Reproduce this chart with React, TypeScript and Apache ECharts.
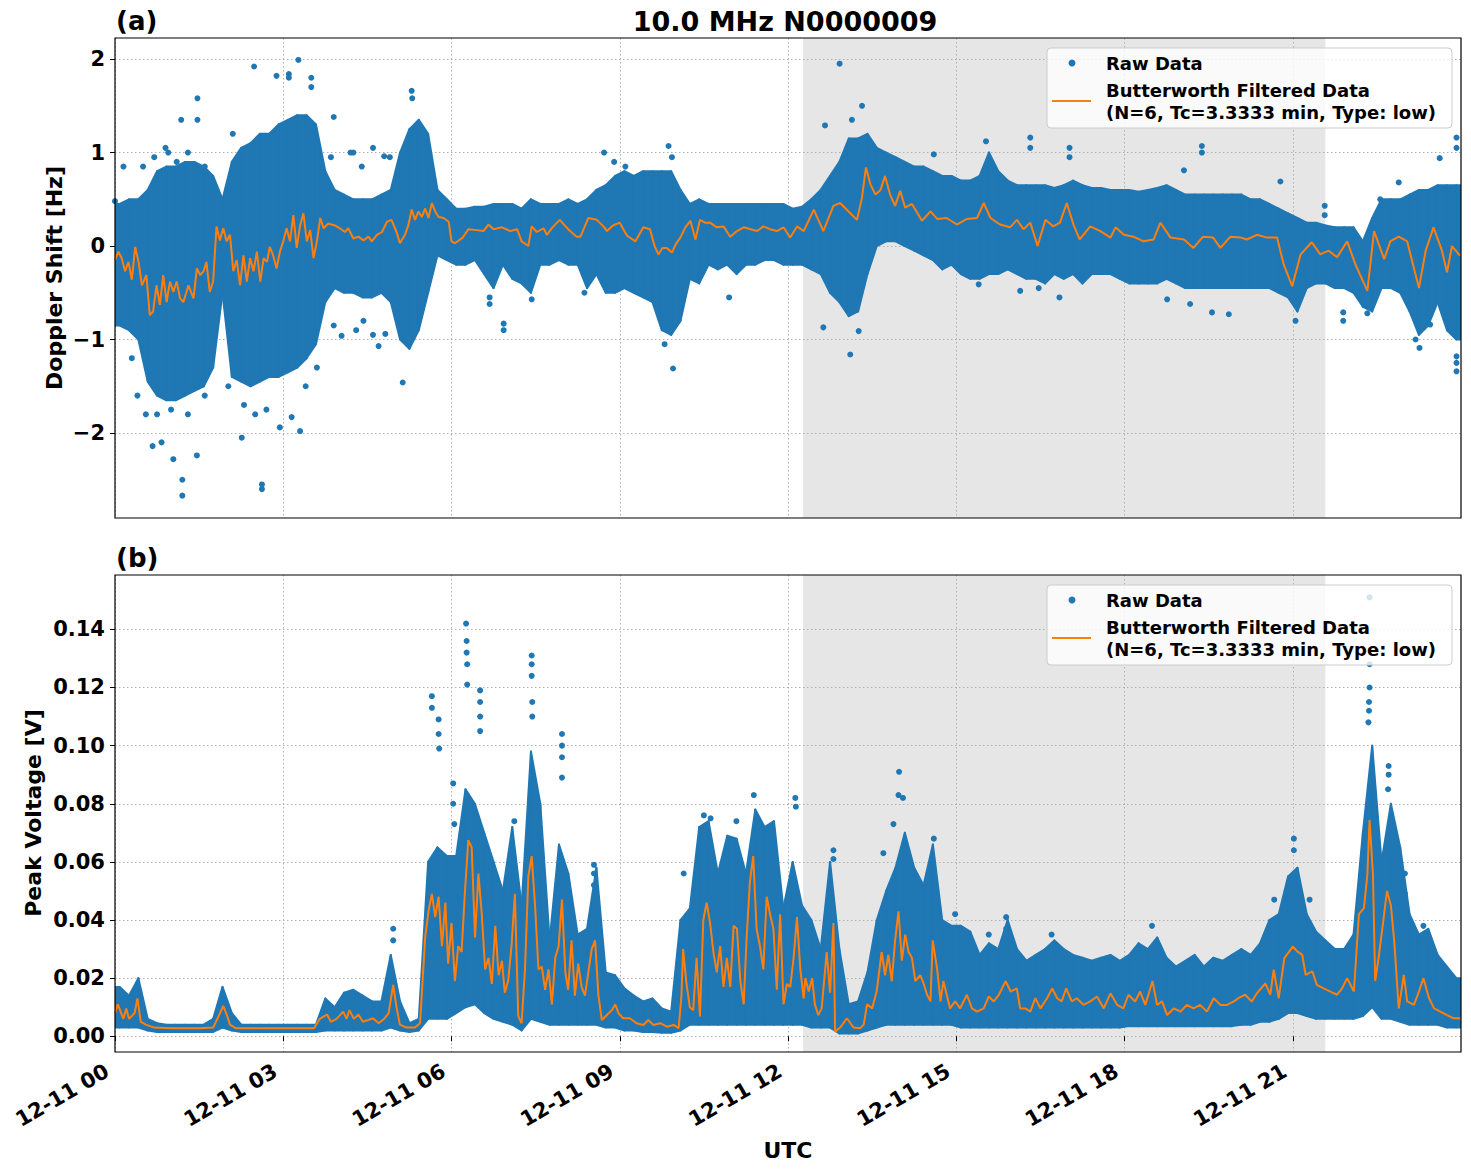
import { useEffect, useRef } from 'react';
import * as echarts from 'echarts';

// Time base: 10-minute bins over the day of 12-11 (hours from 00 UTC)
const BIN_HOURS = 1 / 6;
const DAY_HOURS = 24;
const X_TICKS = [0, 3, 6, 9, 12, 15, 18, 21];
const SHADE_START = 12.27;
const SHADE_END = 21.58;

// Panel (a): Doppler shift [Hz] — dense cloud envelope per 10-min bin
const dopplerHi = [
  0.45, 0.5, 0.5, 0.6, 0.8, 0.85, 0.85, 0.9, 0.9, 0.85,
  0.75, 0.5, 0.9, 1.05, 1.1, 1.2, 1.2, 1.3, 1.35, 1.4,
  1.4, 1.3, 0.8, 0.6, 0.55, 0.5, 0.5, 0.5, 0.55, 0.6,
  1.0, 1.25, 1.35, 1.2, 0.6, 0.5, 0.4, 0.4, 0.42, 0.42,
  0.45, 0.45, 0.45, 0.4, 0.5, 0.45, 0.45, 0.45, 0.5, 0.45,
  0.5, 0.6, 0.65, 0.75, 0.8, 0.75, 0.8, 0.8, 0.8, 0.8,
  0.6, 0.45, 0.5, 0.45, 0.45, 0.45, 0.45, 0.45, 0.45, 0.45,
  0.45, 0.45, 0.4, 0.42, 0.5, 0.6, 0.75, 0.9, 1.15, 1.15,
  1.2, 1.05, 1.0, 0.95, 0.9, 0.85, 0.85, 0.8, 0.75, 0.75,
  0.7, 0.7, 0.75, 1.0, 0.8, 0.7, 0.65, 0.65, 0.65, 0.65,
  0.62, 0.65, 0.7, 0.65, 0.62, 0.62, 0.6, 0.6, 0.6, 0.58,
  0.6, 0.62, 0.65, 0.6, 0.55, 0.55, 0.55, 0.55, 0.55, 0.55,
  0.55, 0.5, 0.5, 0.45, 0.4, 0.35, 0.3, 0.25, 0.25, 0.22,
  0.2, 0.2, 0.2, 0.05, 0.3, 0.5, 0.5, 0.5, 0.55, 0.6,
  0.6, 0.65, 0.65, 0.65,
];
const dopplerLo = [
  -0.85, -0.9, -1.0, -1.45, -1.6, -1.65, -1.65, -1.6, -1.55, -1.5,
  -1.3, -0.5, -1.4, -1.45, -1.5, -1.45, -1.4, -1.4, -1.35, -1.3,
  -1.2, -1.05, -0.6, -0.45, -0.5, -0.5, -0.55, -0.55, -0.5, -0.6,
  -1.0, -1.1, -0.9, -0.5, -0.1, -0.15, -0.2, -0.2, -0.15, -0.3,
  -0.45, -0.2, -0.35, -0.4, -0.5, -0.2, -0.2, -0.15, -0.2, -0.2,
  -0.45, -0.3, -0.5, -0.5, -0.45, -0.5, -0.55, -0.6, -0.9, -0.95,
  -0.8, -0.35, -0.4, -0.2, -0.25, -0.2, -0.3, -0.2, -0.2, -0.15,
  -0.15, -0.2, -0.2, -0.2, -0.25, -0.3, -0.5, -0.6, -0.75, -0.7,
  -0.3, 0.0, 0.05, 0.05, 0.0, -0.05, -0.1, -0.15, -0.25, -0.2,
  -0.3, -0.35, -0.35, -0.3, -0.3, -0.25, -0.3, -0.35, -0.35, -0.4,
  -0.3, -0.35, -0.3, -0.4, -0.3, -0.3, -0.3, -0.35, -0.4, -0.4,
  -0.4, -0.4, -0.35, -0.4, -0.45, -0.45, -0.45, -0.45, -0.45, -0.45,
  -0.45, -0.45, -0.45, -0.45, -0.5, -0.55, -0.7, -0.45, -0.4, -0.4,
  -0.45, -0.45, -0.5, -0.65, -0.7, -0.45, -0.45, -0.5, -0.7, -0.95,
  -0.85, -0.6, -0.9, -1.0,
];
// Butterworth low-pass output: [hour, Hz]
const dopplerFilt = [
  [0.0, -0.15], [0.06, -0.06], [0.12, -0.13], [0.18, -0.27], [0.24, -0.17], [0.3, -0.36],
  [0.36, -0.01], [0.42, -0.17], [0.48, -0.42], [0.56, -0.31], [0.62, -0.74], [0.68, -0.7],
  [0.74, -0.42], [0.8, -0.63], [0.86, -0.31], [0.92, -0.6], [0.98, -0.38], [1.04, -0.49],
  [1.1, -0.38], [1.16, -0.56], [1.22, -0.6], [1.31, -0.42], [1.4, -0.56], [1.46, -0.24],
  [1.52, -0.31], [1.58, -0.27], [1.63, -0.17], [1.69, -0.49], [1.75, -0.38], [1.81, 0.21],
  [1.87, 0.06], [1.93, 0.19], [1.99, 0.05], [2.05, 0.12], [2.11, -0.27], [2.17, -0.15],
  [2.23, -0.42], [2.29, -0.1], [2.35, -0.38], [2.41, -0.13], [2.47, -0.27], [2.53, -0.06],
  [2.59, -0.38], [2.65, -0.13], [2.71, -0.17], [2.76, -0.01], [2.82, -0.1], [2.88, -0.24],
  [2.94, -0.06], [3.0, 0.05], [3.06, 0.19], [3.12, 0.05], [3.18, 0.33], [3.24, -0.02],
  [3.3, 0.22], [3.36, 0.35], [3.42, 0.05], [3.48, 0.17], [3.54, -0.13], [3.6, 0.05],
  [3.66, 0.3], [3.72, 0.19], [3.8, 0.24], [3.92, 0.22], [4.01, 0.19], [4.1, 0.15],
  [4.16, 0.19], [4.25, 0.08], [4.34, 0.1], [4.43, 0.06], [4.52, 0.1], [4.58, 0.05],
  [4.67, 0.12], [4.76, 0.15], [4.85, 0.26], [4.93, 0.28], [5.02, 0.15], [5.08, 0.03],
  [5.17, 0.12], [5.23, 0.22], [5.29, 0.39], [5.35, 0.28], [5.41, 0.37], [5.47, 0.31],
  [5.53, 0.4], [5.59, 0.3], [5.65, 0.46], [5.71, 0.37], [5.77, 0.31], [5.86, 0.3],
  [5.95, 0.26], [6.0, 0.05], [6.06, 0.03], [6.2, 0.09], [6.3, 0.18], [6.45, 0.17],
  [6.57, 0.16], [6.66, 0.23], [6.75, 0.18], [6.9, 0.2], [7.05, 0.16], [7.17, 0.18],
  [7.25, 0.05], [7.37, 0.0], [7.43, 0.21], [7.52, 0.15], [7.64, 0.19], [7.7, 0.12],
  [7.8, 0.2], [7.93, 0.28], [8.08, 0.18], [8.23, 0.1], [8.3, 0.1], [8.44, 0.3],
  [8.59, 0.28], [8.71, 0.21], [8.77, 0.16], [8.88, 0.22], [9.0, 0.25], [9.13, 0.11],
  [9.28, 0.05], [9.42, 0.2], [9.54, 0.18], [9.62, 0.0], [9.69, -0.09], [9.76, -0.02],
  [9.84, -0.02], [9.93, -0.07], [10.0, 0.02], [10.08, 0.09], [10.17, 0.2], [10.26, 0.27],
  [10.35, 0.07], [10.43, 0.28], [10.52, 0.25], [10.61, 0.25], [10.73, 0.2], [10.85, 0.21],
  [10.97, 0.1], [11.09, 0.16], [11.21, 0.2], [11.33, 0.18], [11.45, 0.16], [11.56, 0.21],
  [11.68, 0.18], [11.8, 0.16], [11.92, 0.2], [12.04, 0.09], [12.16, 0.21], [12.28, 0.16],
  [12.46, 0.39], [12.63, 0.16], [12.81, 0.43], [12.93, 0.46], [13.08, 0.37], [13.23, 0.28],
  [13.32, 0.52], [13.39, 0.84], [13.47, 0.66], [13.56, 0.55], [13.65, 0.6], [13.73, 0.75],
  [13.82, 0.55], [13.91, 0.43], [14.0, 0.59], [14.09, 0.41], [14.21, 0.45], [14.39, 0.27],
  [14.54, 0.37], [14.66, 0.29], [14.83, 0.3], [15.01, 0.23], [15.19, 0.29], [15.37, 0.3],
  [15.49, 0.46], [15.61, 0.3], [15.78, 0.23], [15.96, 0.2], [16.08, 0.28], [16.2, 0.18],
  [16.32, 0.25], [16.45, 0.0], [16.59, 0.28], [16.73, 0.21], [16.85, 0.25], [16.97, 0.46],
  [17.09, 0.23], [17.2, 0.07], [17.39, 0.21], [17.57, 0.16], [17.75, 0.09], [17.84, 0.2],
  [17.99, 0.12], [18.16, 0.1], [18.34, 0.05], [18.52, 0.07], [18.64, 0.25], [18.82, 0.09],
  [19.06, 0.07], [19.23, -0.02], [19.4, 0.1], [19.58, 0.09], [19.71, -0.02], [19.89, 0.1],
  [20.07, 0.09], [20.18, 0.07], [20.36, 0.12], [20.54, 0.09], [20.72, 0.09], [20.84, -0.2],
  [20.99, -0.43], [21.14, -0.09], [21.34, 0.04], [21.49, -0.09], [21.64, -0.05], [21.79, -0.12],
  [21.97, 0.05], [22.12, -0.2], [22.33, -0.48], [22.45, 0.16], [22.63, -0.14], [22.74, 0.05],
  [22.89, 0.1], [23.04, 0.05], [23.25, -0.45], [23.37, -0.05], [23.51, 0.2], [23.66, -0.05],
  [23.75, -0.28], [23.84, 0.0], [23.96, -0.09], [24.0, -0.1],
];
// Isolated raw samples outside the dense cloud: [hour, Hz]
const dopplerOutliers = [
  [0.0, 0.48], [0.15, 0.85], [0.5, 0.85], [0.7, 0.95], [0.9, 1.05], [0.95, 1.0], [1.1, 0.9],
  [1.18, 1.35], [1.3, 1.0], [1.47, 1.58], [1.47, 1.35], [1.6, 0.85],
  [0.3, -1.2], [0.4, -1.6], [0.55, -1.8], [0.67, -2.14], [0.75, -1.8], [0.83, -2.1],
  [1.0, -1.75], [1.04, -2.28], [1.2, -2.5], [1.2, -2.67], [1.3, -1.8], [1.46, -2.24], [1.6, -1.6],
  [2.02, -1.5], [2.1, 1.2], [2.26, -2.05], [2.3, -1.7], [2.48, 1.92], [2.5, -1.8],
  [2.62, -2.55], [2.62, -2.6], [2.7, -1.75], [2.88, 1.82], [2.94, -1.94], [3.1, 1.84],
  [3.1, 1.8], [3.15, -1.83], [3.27, 1.99], [3.3, -1.98], [3.4, -1.5], [3.5, 1.8], [3.5, 1.7],
  [3.6, -1.3], [3.85, 0.95], [3.9, 1.38], [3.9, -0.85], [4.04, -0.96], [4.2, 1.0], [4.25, 1.0],
  [4.3, -0.9], [4.4, 0.85], [4.43, -0.8], [4.6, 1.05], [4.6, -0.95], [4.7, -1.07], [4.8, 0.96],
  [4.82, -0.94], [4.9, 0.95], [5.13, -1.46], [5.29, 1.66], [5.3, 1.58],
  [6.68, -0.62], [6.68, -0.55], [6.93, -0.9], [6.93, -0.83], [7.43, -0.57], [8.37, -0.5],
  [8.72, 1.0], [8.9, 0.9], [9.1, 0.85], [9.8, -1.05], [9.87, 1.07], [9.93, 0.95], [9.95, -1.31],
  [10.95, -0.55], [12.63, -0.87], [12.66, 1.29], [12.92, 1.95], [13.11, -1.16], [13.14, 1.35],
  [13.26, -0.91], [13.32, 1.5], [14.6, 0.98], [15.4, -0.41], [15.53, 1.12], [16.14, -0.48],
  [16.32, 1.16], [16.32, 1.05], [16.47, -0.45], [16.84, -0.55], [17.02, 1.05], [17.02, 0.95],
  [18.76, -0.57], [19.06, 0.81], [19.17, -0.62], [19.38, 1.07], [19.38, 1.0], [19.56, -0.71],
  [19.86, -0.73], [20.78, 0.69], [21.05, -0.8], [21.57, 0.43], [21.57, 0.33], [21.9, -0.71],
  [21.9, -0.8], [22.33, -0.72], [22.56, 0.5], [22.89, 0.68], [23.19, -1.0], [23.26, -1.09],
  [23.45, -0.84], [23.62, 0.94], [23.92, 1.16], [23.92, 1.05], [23.92, -1.34], [23.92, -1.25],
  [23.92, -1.18],
];

// Panel (b): Peak voltage [V] — dense cloud envelope per 10-min bin
const voltageHi = [
  0.017, 0.014, 0.02, 0.006, 0.0045, 0.004, 0.004, 0.004, 0.004, 0.004,
  0.006, 0.017, 0.008, 0.004, 0.004, 0.004, 0.004, 0.004, 0.004, 0.004,
  0.004, 0.004, 0.013, 0.01, 0.015, 0.016, 0.014, 0.012, 0.012, 0.028,
  0.012, 0.0045, 0.006, 0.06, 0.065, 0.062, 0.062, 0.085, 0.08, 0.07,
  0.06, 0.05, 0.072, 0.045, 0.098, 0.08, 0.033, 0.066, 0.056, 0.035,
  0.037, 0.058, 0.022, 0.021, 0.0165, 0.014, 0.012, 0.013, 0.0096, 0.0085,
  0.04, 0.044, 0.072, 0.074, 0.056, 0.069, 0.068, 0.056, 0.078, 0.072,
  0.074, 0.044, 0.06, 0.045, 0.04, 0.03, 0.06, 0.03, 0.011, 0.012,
  0.022, 0.04, 0.05, 0.058, 0.07, 0.058, 0.052, 0.066, 0.04, 0.038,
  0.038, 0.036, 0.028, 0.032, 0.03, 0.04, 0.03, 0.026, 0.028, 0.03,
  0.033, 0.03, 0.028, 0.027, 0.026, 0.027, 0.028, 0.026, 0.028, 0.032,
  0.03, 0.034, 0.027, 0.024, 0.026, 0.028, 0.024, 0.027, 0.026, 0.028,
  0.03, 0.028, 0.032, 0.04, 0.042, 0.055, 0.058, 0.042, 0.036, 0.033,
  0.03, 0.03, 0.035, 0.07, 0.1, 0.06, 0.08, 0.065, 0.042, 0.035,
  0.037, 0.028, 0.024, 0.02,
];
const voltageLo = [
  0.003, 0.003, 0.003, 0.002, 0.0015, 0.0015, 0.0015, 0.0015, 0.0015, 0.0015,
  0.0015, 0.003, 0.002, 0.0015, 0.0015, 0.0015, 0.0015, 0.0015, 0.0015, 0.0015,
  0.0015, 0.0015, 0.002, 0.002, 0.002, 0.002, 0.002, 0.002, 0.002, 0.003,
  0.002, 0.0015, 0.002, 0.006, 0.006, 0.006, 0.008, 0.01, 0.011, 0.008,
  0.006, 0.005, 0.004, 0.002, 0.006, 0.005, 0.004, 0.004, 0.004, 0.004,
  0.004, 0.004, 0.003, 0.003, 0.002, 0.002, 0.0015, 0.0015, 0.0012, 0.0012,
  0.002, 0.004, 0.004, 0.004, 0.004, 0.004, 0.004, 0.004, 0.004, 0.004,
  0.004, 0.004, 0.004, 0.004, 0.003, 0.003, 0.003, 0.001, 0.001, 0.001,
  0.002, 0.003, 0.004, 0.004, 0.004, 0.004, 0.004, 0.004, 0.004, 0.004,
  0.003, 0.003, 0.003, 0.003, 0.003, 0.003, 0.003, 0.003, 0.003, 0.003,
  0.003, 0.003, 0.003, 0.003, 0.003, 0.003, 0.003, 0.003, 0.0035, 0.0035,
  0.0035, 0.0035, 0.0035, 0.0035, 0.0035, 0.0035, 0.0035, 0.0035, 0.0035, 0.0035,
  0.004, 0.004, 0.005, 0.005, 0.006, 0.008, 0.008, 0.007, 0.006, 0.006,
  0.006, 0.006, 0.006, 0.007, 0.01, 0.006, 0.006, 0.005, 0.004, 0.004,
  0.004, 0.004, 0.003, 0.003,
];
// Butterworth low-pass output: [hour, V]
const voltageFilt = [
  [0.0, 0.008], [0.05, 0.011], [0.15, 0.006], [0.2, 0.0096], [0.25, 0.006], [0.35, 0.008],
  [0.4, 0.013], [0.46, 0.005], [0.55, 0.004], [0.7, 0.003], [1.0, 0.0028], [1.5, 0.0028],
  [1.75, 0.003], [1.85, 0.007], [1.93, 0.0105], [2.0, 0.007], [2.05, 0.004], [2.15, 0.0028],
  [3.0, 0.0028], [3.55, 0.0028], [3.65, 0.006], [3.78, 0.0075], [3.85, 0.005], [3.95, 0.006],
  [4.07, 0.0085], [4.13, 0.006], [4.18, 0.009], [4.26, 0.006], [4.34, 0.0075], [4.42, 0.005],
  [4.5, 0.0055], [4.6, 0.0062], [4.7, 0.0045], [4.8, 0.006], [4.88, 0.008], [4.96, 0.0177],
  [5.02, 0.01], [5.08, 0.004], [5.2, 0.003], [5.35, 0.003], [5.44, 0.0045], [5.53, 0.034],
  [5.59, 0.043], [5.65, 0.049], [5.71, 0.041], [5.77, 0.048], [5.83, 0.031], [5.89, 0.046],
  [5.94, 0.025], [6.0, 0.039], [6.06, 0.019], [6.12, 0.031], [6.18, 0.029], [6.24, 0.05],
  [6.3, 0.0675], [6.36, 0.065], [6.42, 0.034], [6.48, 0.056], [6.54, 0.042], [6.6, 0.023],
  [6.66, 0.027], [6.72, 0.018], [6.78, 0.038], [6.84, 0.021], [6.9, 0.026], [6.95, 0.015],
  [7.01, 0.019], [7.07, 0.031], [7.13, 0.049], [7.19, 0.007], [7.25, 0.0045], [7.31, 0.023],
  [7.37, 0.055], [7.43, 0.062], [7.49, 0.045], [7.55, 0.023], [7.61, 0.024], [7.67, 0.016],
  [7.73, 0.023], [7.79, 0.011], [7.85, 0.027], [7.91, 0.031], [7.97, 0.047], [8.03, 0.022],
  [8.08, 0.016], [8.14, 0.033], [8.2, 0.014], [8.26, 0.025], [8.32, 0.017], [8.38, 0.014],
  [8.44, 0.022], [8.5, 0.03], [8.56, 0.033], [8.62, 0.014], [8.68, 0.0056], [8.77, 0.0073],
  [8.86, 0.009], [8.92, 0.011], [8.98, 0.0079], [9.06, 0.0062], [9.18, 0.0062], [9.3, 0.0045],
  [9.42, 0.0039], [9.51, 0.0056], [9.6, 0.0039], [9.72, 0.0045], [9.84, 0.0033], [9.96, 0.0039],
  [10.05, 0.0028], [10.1, 0.014], [10.13, 0.03], [10.19, 0.018], [10.25, 0.01], [10.31, 0.009],
  [10.37, 0.027], [10.43, 0.0068], [10.49, 0.04], [10.55, 0.046], [10.61, 0.039], [10.67, 0.029],
  [10.73, 0.022], [10.79, 0.031], [10.85, 0.017], [10.91, 0.027], [10.97, 0.017], [11.03, 0.038],
  [11.09, 0.037], [11.15, 0.019], [11.21, 0.011], [11.26, 0.033], [11.32, 0.053], [11.38, 0.062],
  [11.44, 0.037], [11.5, 0.031], [11.56, 0.023], [11.62, 0.048], [11.68, 0.042], [11.74, 0.037],
  [11.8, 0.016], [11.86, 0.042], [11.92, 0.011], [11.98, 0.018], [12.04, 0.017], [12.1, 0.027],
  [12.16, 0.041], [12.22, 0.023], [12.28, 0.013], [12.31, 0.02], [12.37, 0.0154], [12.43, 0.02],
  [12.48, 0.011], [12.54, 0.0073], [12.6, 0.0096], [12.69, 0.029], [12.75, 0.015], [12.81, 0.039],
  [12.84, 0.0016], [12.93, 0.003], [13.05, 0.0062], [13.17, 0.003], [13.29, 0.0028], [13.35, 0.004],
  [13.41, 0.011], [13.5, 0.0096], [13.58, 0.0154], [13.67, 0.029], [13.73, 0.021], [13.79, 0.028],
  [13.85, 0.019], [13.91, 0.033], [13.97, 0.043], [14.03, 0.026], [14.09, 0.035], [14.15, 0.029],
  [14.21, 0.027], [14.27, 0.019], [14.36, 0.021], [14.42, 0.018], [14.48, 0.0143], [14.54, 0.012],
  [14.58, 0.033], [14.66, 0.023], [14.72, 0.012], [14.77, 0.019], [14.83, 0.0143], [14.89, 0.0096],
  [14.98, 0.012], [15.07, 0.0096], [15.19, 0.0143], [15.28, 0.0096], [15.37, 0.0085], [15.49, 0.0096],
  [15.58, 0.0137], [15.67, 0.012], [15.76, 0.0143], [15.88, 0.019], [15.97, 0.0154], [16.08, 0.0165],
  [16.14, 0.0096], [16.23, 0.0096], [16.32, 0.0085], [16.41, 0.0131], [16.5, 0.0096], [16.62, 0.0131],
  [16.71, 0.0165], [16.8, 0.0131], [16.88, 0.012], [16.96, 0.0165], [17.06, 0.012], [17.15, 0.0131],
  [17.27, 0.0108], [17.39, 0.012], [17.51, 0.0137], [17.63, 0.0096], [17.75, 0.0148], [17.87, 0.0108],
  [17.98, 0.0096], [18.07, 0.0143], [18.19, 0.012], [18.28, 0.0154], [18.37, 0.0108], [18.5, 0.019],
  [18.58, 0.0108], [18.67, 0.012], [18.76, 0.0073], [18.88, 0.0096], [19.0, 0.0085], [19.11, 0.0108],
  [19.23, 0.0096], [19.35, 0.0108], [19.47, 0.0085], [19.59, 0.0131], [19.71, 0.0108], [19.83, 0.0108],
  [19.95, 0.012], [20.03, 0.0131], [20.15, 0.0143], [20.27, 0.012], [20.36, 0.0148], [20.51, 0.0182],
  [20.6, 0.0143], [20.66, 0.0229], [20.75, 0.0131], [20.85, 0.0269], [20.94, 0.0292], [21.0, 0.0309],
  [21.08, 0.0292], [21.17, 0.028], [21.23, 0.0211], [21.35, 0.0223], [21.43, 0.0177], [21.55, 0.0165],
  [21.67, 0.0154], [21.79, 0.0143], [21.88, 0.0165], [21.97, 0.02], [22.09, 0.0154], [22.18, 0.042],
  [22.27, 0.0441], [22.33, 0.0556], [22.37, 0.0745], [22.43, 0.0556], [22.47, 0.019], [22.53, 0.0269],
  [22.62, 0.0406], [22.68, 0.05], [22.75, 0.045], [22.81, 0.0326], [22.89, 0.0096], [22.98, 0.0211],
  [23.04, 0.012], [23.16, 0.0108], [23.25, 0.0154], [23.33, 0.02], [23.43, 0.0131], [23.52, 0.0096],
  [23.63, 0.0085], [23.75, 0.0073], [23.87, 0.0062], [23.96, 0.0062], [24.0, 0.006],
];
// Isolated raw samples above the dense cloud: [hour, V]
const voltageOutliers = [
  [4.96, 0.037], [4.96, 0.033], [5.65, 0.117], [5.65, 0.113], [5.77, 0.109], [5.77, 0.104],
  [5.78, 0.099], [6.03, 0.087], [6.03, 0.08], [6.05, 0.073], [6.26, 0.142], [6.27, 0.136],
  [6.27, 0.132], [6.28, 0.128], [6.28, 0.121], [6.51, 0.119], [6.51, 0.115], [6.51, 0.11],
  [6.51, 0.105], [7.12, 0.074], [7.43, 0.131], [7.43, 0.128], [7.43, 0.124], [7.44, 0.115],
  [7.44, 0.11], [7.97, 0.104], [7.97, 0.1], [7.97, 0.096], [7.97, 0.089], [8.54, 0.059],
  [8.54, 0.056], [8.54, 0.052], [10.14, 0.056], [10.5, 0.076], [10.62, 0.075], [11.08, 0.074],
  [11.39, 0.083], [12.13, 0.082], [12.14, 0.079], [12.81, 0.064], [12.81, 0.061], [13.98, 0.091],
  [13.97, 0.083], [14.05, 0.082], [13.88, 0.073], [14.6, 0.068], [13.7, 0.063], [14.98, 0.042],
  [15.89, 0.041], [15.89, 0.037], [16.7, 0.035], [15.58, 0.035], [18.49, 0.038], [20.67, 0.047],
  [21.02, 0.068], [21.02, 0.064], [21.3, 0.047], [22.37, 0.151], [22.37, 0.128], [22.37, 0.12],
  [22.36, 0.115], [22.36, 0.112], [22.35, 0.108], [22.71, 0.093], [22.71, 0.09], [22.7, 0.085],
  [23.0, 0.056], [23.0, 0.049], [23.33, 0.038], [23.33, 0.035],
];

const DOPPLER_TICKS = [-2, -1, 0, 1, 2];
const VOLTAGE_TICKS = [0, 0.02, 0.04, 0.06, 0.08, 0.1, 0.12, 0.14];

const BLUE = '#1f77b4';
const ORANGE = '#ff7f0e';
const SHADE = '#e6e6e6';
const GRID_LINE = '#b0b0b0';
const FONT = '"DejaVu Sans", sans-serif';

const RAW_NAME = 'Raw Data';
const FILT_NAME = 'Butterworth Filtered Data';
const FILT_PARAMS = '(N=6, Tc=3.3333 min, Type: low)';

// Trapezoid segments between bin centres of the dense-cloud envelope
function bandSegments(lo: number[], hi: number[]) {
  const n = lo.length;
  const pts: number[][] = [[0, lo[0], hi[0]]];
  for (let i = 0; i < n; i++) pts.push([(i + 0.5) * BIN_HOURS, lo[i], hi[i]]);
  pts.push([DAY_HOURS, lo[n - 1], hi[n - 1]]);
  const segs: number[][] = [];
  for (let k = 0; k < pts.length - 1; k++) segs.push([...pts[k], ...pts[k + 1]]);
  return segs;
}

const renderBand = (_params: any, api: any) => {
  const a = api.coord([api.value(0), api.value(2)]);
  const b = api.coord([api.value(3), api.value(5)]);
  const c = api.coord([api.value(3), api.value(4)]);
  const d = api.coord([api.value(0), api.value(1)]);
  return {
    type: 'polygon',
    shape: { points: [a, b, c, d] },
    style: { fill: BLUE, stroke: BLUE, lineWidth: 2, lineJoin: 'round' },
  };
};

const pad2 = (v: number) => String(v).padStart(2, '0');
const minus = (v: number) => (v < 0 ? '\u2212' + Math.abs(v) : String(v));

function panelSeries(idx: number, lo: number[], hi: number[], filt: number[][], outliers: number[][]) {
  return [
    {
      type: 'line',
      xAxisIndex: idx,
      yAxisIndex: idx,
      data: [],
      z: 1,
      silent: true,
      markArea: {
        silent: true,
        itemStyle: { color: SHADE },
        data: [[{ xAxis: SHADE_START }, { xAxis: SHADE_END }]],
      },
    },
    {
      name: RAW_NAME,
      type: 'custom',
      xAxisIndex: idx,
      yAxisIndex: idx,
      renderItem: renderBand,
      data: bandSegments(lo, hi),
      encode: { x: [0, 3], y: [1, 2, 4, 5] },
      clip: true,
      z: 5,
      silent: true,
    },
    {
      name: RAW_NAME,
      type: 'scatter',
      xAxisIndex: idx,
      yAxisIndex: idx,
      data: outliers,
      symbolSize: 6,
      itemStyle: { color: BLUE, opacity: 1 },
      z: 5,
      silent: true,
    },
    {
      name: FILT_NAME,
      type: 'line',
      xAxisIndex: idx,
      yAxisIndex: idx,
      data: filt,
      showSymbol: false,
      lineStyle: { color: ORANGE, width: 2 },
      itemStyle: { color: ORANGE },
      z: 6,
      silent: true,
    },
  ];
}

function legendGraphics(top: number) {
  const left = 1047;
  const txt = (text: string, y: number) => ({
    type: 'text',
    x: 1106,
    y,
    z: 101,
    style: {
      text,
      fill: '#000',
      fontSize: 18,
      fontWeight: 'bold',
      fontFamily: FONT,
      align: 'left',
      verticalAlign: 'middle',
    },
  });
  return [
    {
      type: 'rect',
      z: 100,
      shape: { x: left, y: top, width: 405, height: 80, r: 4 },
      style: { fill: 'rgba(255,255,255,0.8)', stroke: '#cccccc', lineWidth: 1 },
    },
    { type: 'circle', z: 101, shape: { cx: 1072, cy: top + 15, r: 3.5 }, style: { fill: BLUE } },
    txt(RAW_NAME, top + 15),
    {
      type: 'line',
      z: 101,
      shape: { x1: 1052, y1: top + 53, x2: 1091, y2: top + 53 },
      style: { stroke: ORANGE, lineWidth: 2 },
    },
    txt(FILT_NAME, top + 42),
    txt(FILT_PARAMS, top + 64),
  ];
}

function label(text: string, x: number, y: number, size: number, align = 'center', rotation = 0) {
  return {
    type: 'text',
    x,
    y,
    rotation,
    z: 50,
    style: {
      text,
      fill: '#000',
      fontSize: size,
      fontWeight: 'bold',
      fontFamily: FONT,
      align,
      verticalAlign: 'middle',
    },
  };
}

export default function App() {
  const ref = useRef<HTMLDivElement>(null);

  useEffect(() => {
    if (!ref.current) return;
    const chart = echarts.init(ref.current, null, { renderer: 'svg' });

    const tickFont = { fontSize: 21, fontWeight: 'bold', color: '#000', fontFamily: FONT };
    const splitLine = { show: true, lineStyle: { color: GRID_LINE, width: 1, type: [1.5, 2.5] } };
    const axisTick = (vals: number[]) => ({
      show: true,
      length: 5,
      inside: false,
      customValues: vals,
      lineStyle: { color: '#000', width: 1 },
    });

    const xBase = {
      type: 'value',
      min: 0,
      max: DAY_HOURS,
      axisLine: { show: false },
      splitLine,
      z: 3,
    };

    chart.setOption({
      animation: false,
      backgroundColor: '#ffffff',
      textStyle: { fontFamily: FONT },
      grid: [
        { left: 115, top: 38, width: 1346, height: 480, show: true, borderColor: '#000', borderWidth: 1.2, backgroundColor: 'transparent', z: 10 },
        { left: 115, top: 575, width: 1346, height: 477, show: true, borderColor: '#000', borderWidth: 1.2, backgroundColor: 'transparent', z: 10 },
      ],
      xAxis: [
        {
          ...xBase,
          gridIndex: 0,
          axisTick: axisTick(X_TICKS),
          axisLabel: { show: false, customValues: X_TICKS },
        },
        {
          ...xBase,
          gridIndex: 1,
          axisTick: axisTick(X_TICKS),
          axisLabel: {
            ...tickFont,
            customValues: X_TICKS,
            rotate: 30,
            margin: 13,
            padding: [0, 9, 0, 0],
            formatter: (v: number) => `12-11 ${pad2(v)}`,
          },
        },
      ],
      yAxis: [
        {
          type: 'value',
          gridIndex: 0,
          min: -2.909,
          max: 2.225,
          axisLine: { show: false },
          axisTick: axisTick(DOPPLER_TICKS),
          axisLabel: { ...tickFont, customValues: DOPPLER_TICKS, margin: 10, formatter: (v: number) => minus(v) },
          splitLine,
          z: 3,
        },
        {
          type: 'value',
          gridIndex: 1,
          min: -0.0054,
          max: 0.1587,
          axisLine: { show: false },
          axisTick: axisTick(VOLTAGE_TICKS),
          axisLabel: { ...tickFont, customValues: VOLTAGE_TICKS, margin: 10, formatter: (v: number) => v.toFixed(2) },
          splitLine,
          z: 3,
        },
      ],
      series: [
        ...panelSeries(0, dopplerLo, dopplerHi, dopplerFilt, dopplerOutliers),
        ...panelSeries(1, voltageLo, voltageHi, voltageFilt, voltageOutliers),
      ],
      graphic: [
        label('10.0 MHz N0000009', 785, 21, 27),
        label('(a)', 116, 21, 26, 'left'),
        label('(b)', 116, 558, 26, 'left'),
        label('Doppler Shift [Hz]', 54, 278, 22, 'center', Math.PI / 2),
        label('Peak Voltage [V]', 33, 813, 22, 'center', Math.PI / 2),
        label('UTC', 788, 1150, 22),
        ...legendGraphics(48),
        ...legendGraphics(585),
      ],
    });

    return () => chart.dispose();
  }, []);

  return (
    <div
      ref={ref}
      style={{ position: 'absolute', left: 0, top: 0, width: 1471, height: 1172, background: '#fff' }}
    />
  );
}
